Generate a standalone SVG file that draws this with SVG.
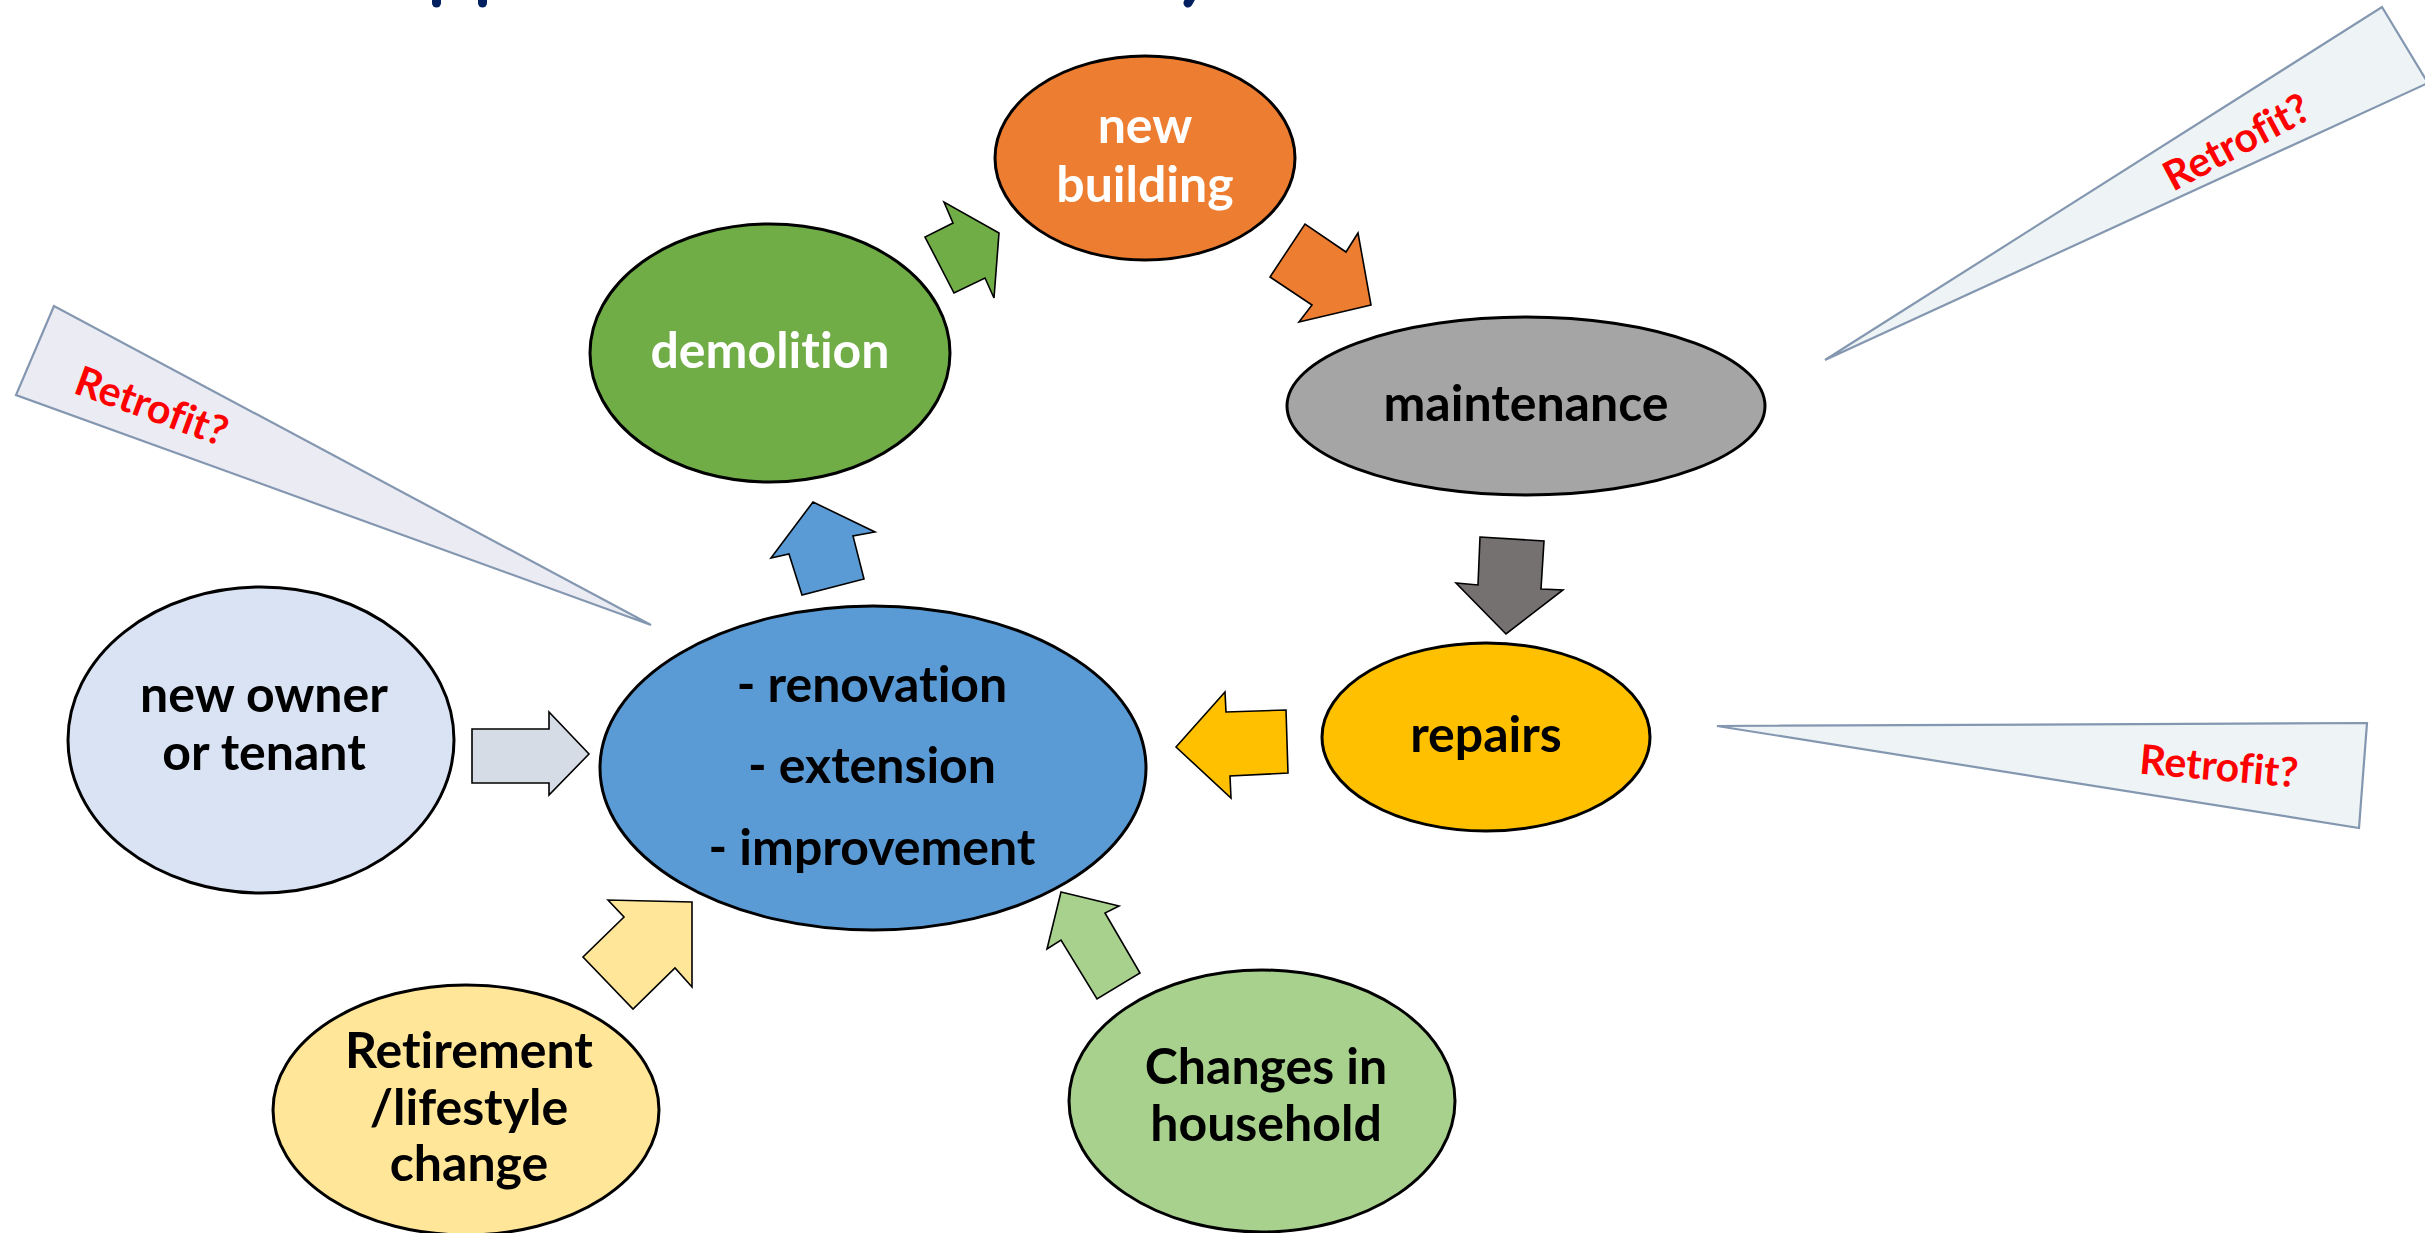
<svg xmlns="http://www.w3.org/2000/svg" width="2425" height="1233" viewBox="0 0 2425 1233">
  <style>
    .node ellipse { stroke: #000; stroke-width: 3; }
    .lbl { font-family: Lato, "Open Sans", "Liberation Sans", sans-serif; font-weight: 700; font-size: 50px; text-anchor: middle; font-variant-ligatures: none; font-feature-settings: "liga" 0, "clig" 0; }
    .wht { fill: #fff; }
    .blk { fill: #000; }
    .arrow { stroke: #000; stroke-width: 1.6; stroke-linejoin: miter; }
    .callout polygon { stroke: #8497B0; stroke-width: 2.2; stroke-linejoin: miter; }
    .retro { font-family: Lato, "Open Sans", "Liberation Sans", sans-serif; font-weight: 700; font-size: 41px; fill: #ff0000; text-anchor: middle; dominant-baseline: central; font-variant-ligatures: none; font-feature-settings: "liga" 0, "clig" 0; }
    .edge { stroke: #002060; stroke-linecap: round; }
  </style>

  <rect width="2425" height="1233" fill="#ffffff"/>

  <!-- lower ends of the heading strokes running off the top edge -->
  <g id="heading-edge" class="edge">
    <line x1="436.5" y1="-4" x2="436.5" y2="3" stroke-width="9"/>
    <line x1="482.5" y1="-4" x2="482.5" y2="3" stroke-width="9"/>
    <line x1="1192" y1="-4" x2="1188" y2="3" stroke-width="9"/>
  </g>

  <!-- "Retrofit?" callout wedges -->
  <g id="callout-left" class="callout">
    <polygon points="54,306 16,395 651,625" fill="#EBEBF4"/>
    <text class="retro" transform="translate(152,405) rotate(20)">Retrofit?</text>
  </g>
  <g id="callout-top-right" class="callout">
    <polygon points="2382,7 2428,83 1825,360" fill="#EEF3F5"/>
    <text class="retro" transform="translate(2236,141) rotate(-28)">Retrofit?</text>
  </g>
  <g id="callout-bottom-right" class="callout">
    <polygon points="1717,726 2367,723 2359,828" fill="#EEF3F5"/>
    <text class="retro" transform="translate(2219,765) rotate(5)">Retrofit?</text>
  </g>

  <!-- block arrows between the stages -->
  <g id="connectors">
    <polygon class="arrow" fill="#70AD47" points="999,233 994,298 985,278 954,293 925,237 953,223 944,202"/>
    <polygon class="arrow" fill="#ED7D31" points="1371,305 1299,322 1312,305 1270,277 1305,224 1346,252 1358,233"/>
    <polygon class="arrow" fill="#767171" points="1480,537 1544,541 1541,589 1563,590 1506,634 1456,583 1478,585"/>
    <polygon class="arrow" fill="#FFC000" points="1176,747 1225,692 1226,712 1286,710 1288,773 1230,776 1231,798"/>
    <polygon class="arrow" fill="#5B9BD5" points="813,502 875,532 853,536 864,579 802,595 789,554 771,558"/>
    <polygon class="arrow" fill="#D6DCE5" points="589,754 549,795 549,783 472,783 472,729 549,729 549,712"/>
    <polygon class="arrow" fill="#FFE699" points="692,902 692,987 675,968 633,1009 583,957 624,917 608,900"/>
    <polygon class="arrow" fill="#A9D18E" points="1061,892 1119,906 1105,913 1140,973 1097,999 1061,940 1047,949"/>
  </g>

  <g id="node-new-building" class="node">
    <ellipse cx="1145" cy="158" rx="150" ry="102" fill="#ED7D31"/>
    <text class="lbl wht" x="1145" y="143">new</text>
    <text class="lbl wht" x="1145" y="202">building</text>
  </g>

  <g id="node-demolition" class="node">
    <ellipse cx="770" cy="353" rx="180" ry="129" fill="#70AD47"/>
    <text class="lbl wht" x="770" y="368">demolition</text>
  </g>

  <g id="node-maintenance" class="node">
    <ellipse cx="1526" cy="406" rx="239" ry="89" fill="#A5A5A5"/>
    <text class="lbl blk" x="1526" y="421">maintenance</text>
  </g>

  <g id="node-repairs" class="node">
    <ellipse cx="1486" cy="737" rx="164" ry="94" fill="#FFC000"/>
    <text class="lbl blk" x="1486" y="752">repairs</text>
  </g>

  <g id="node-works" class="node">
    <ellipse cx="873" cy="768" rx="273" ry="162" fill="#5B9BD5"/>
    <text class="lbl blk" x="872" y="702">- renovation</text>
    <text class="lbl blk" x="872" y="783">- extension</text>
    <text class="lbl blk" x="872" y="865">- improvement</text>
  </g>

  <g id="node-new-owner" class="node">
    <ellipse cx="261" cy="740" rx="193" ry="153" fill="#DAE3F3"/>
    <text class="lbl blk" x="264" y="712">new owner</text>
    <text class="lbl blk" x="264" y="770">or tenant</text>
  </g>

  <g id="node-retirement" class="node">
    <ellipse cx="466" cy="1110" rx="193" ry="125" fill="#FFE699"/>
    <text class="lbl blk" x="469" y="1068">Retirement</text>
    <text class="lbl blk" x="469" y="1125">/lifestyle</text>
    <text class="lbl blk" x="469" y="1181">change</text>
  </g>

  <g id="node-household" class="node">
    <ellipse cx="1262" cy="1101" rx="193" ry="131" fill="#A9D18E"/>
    <text class="lbl blk" x="1266" y="1084">Changes in</text>
    <text class="lbl blk" x="1266" y="1141">household</text>
  </g>
</svg>
